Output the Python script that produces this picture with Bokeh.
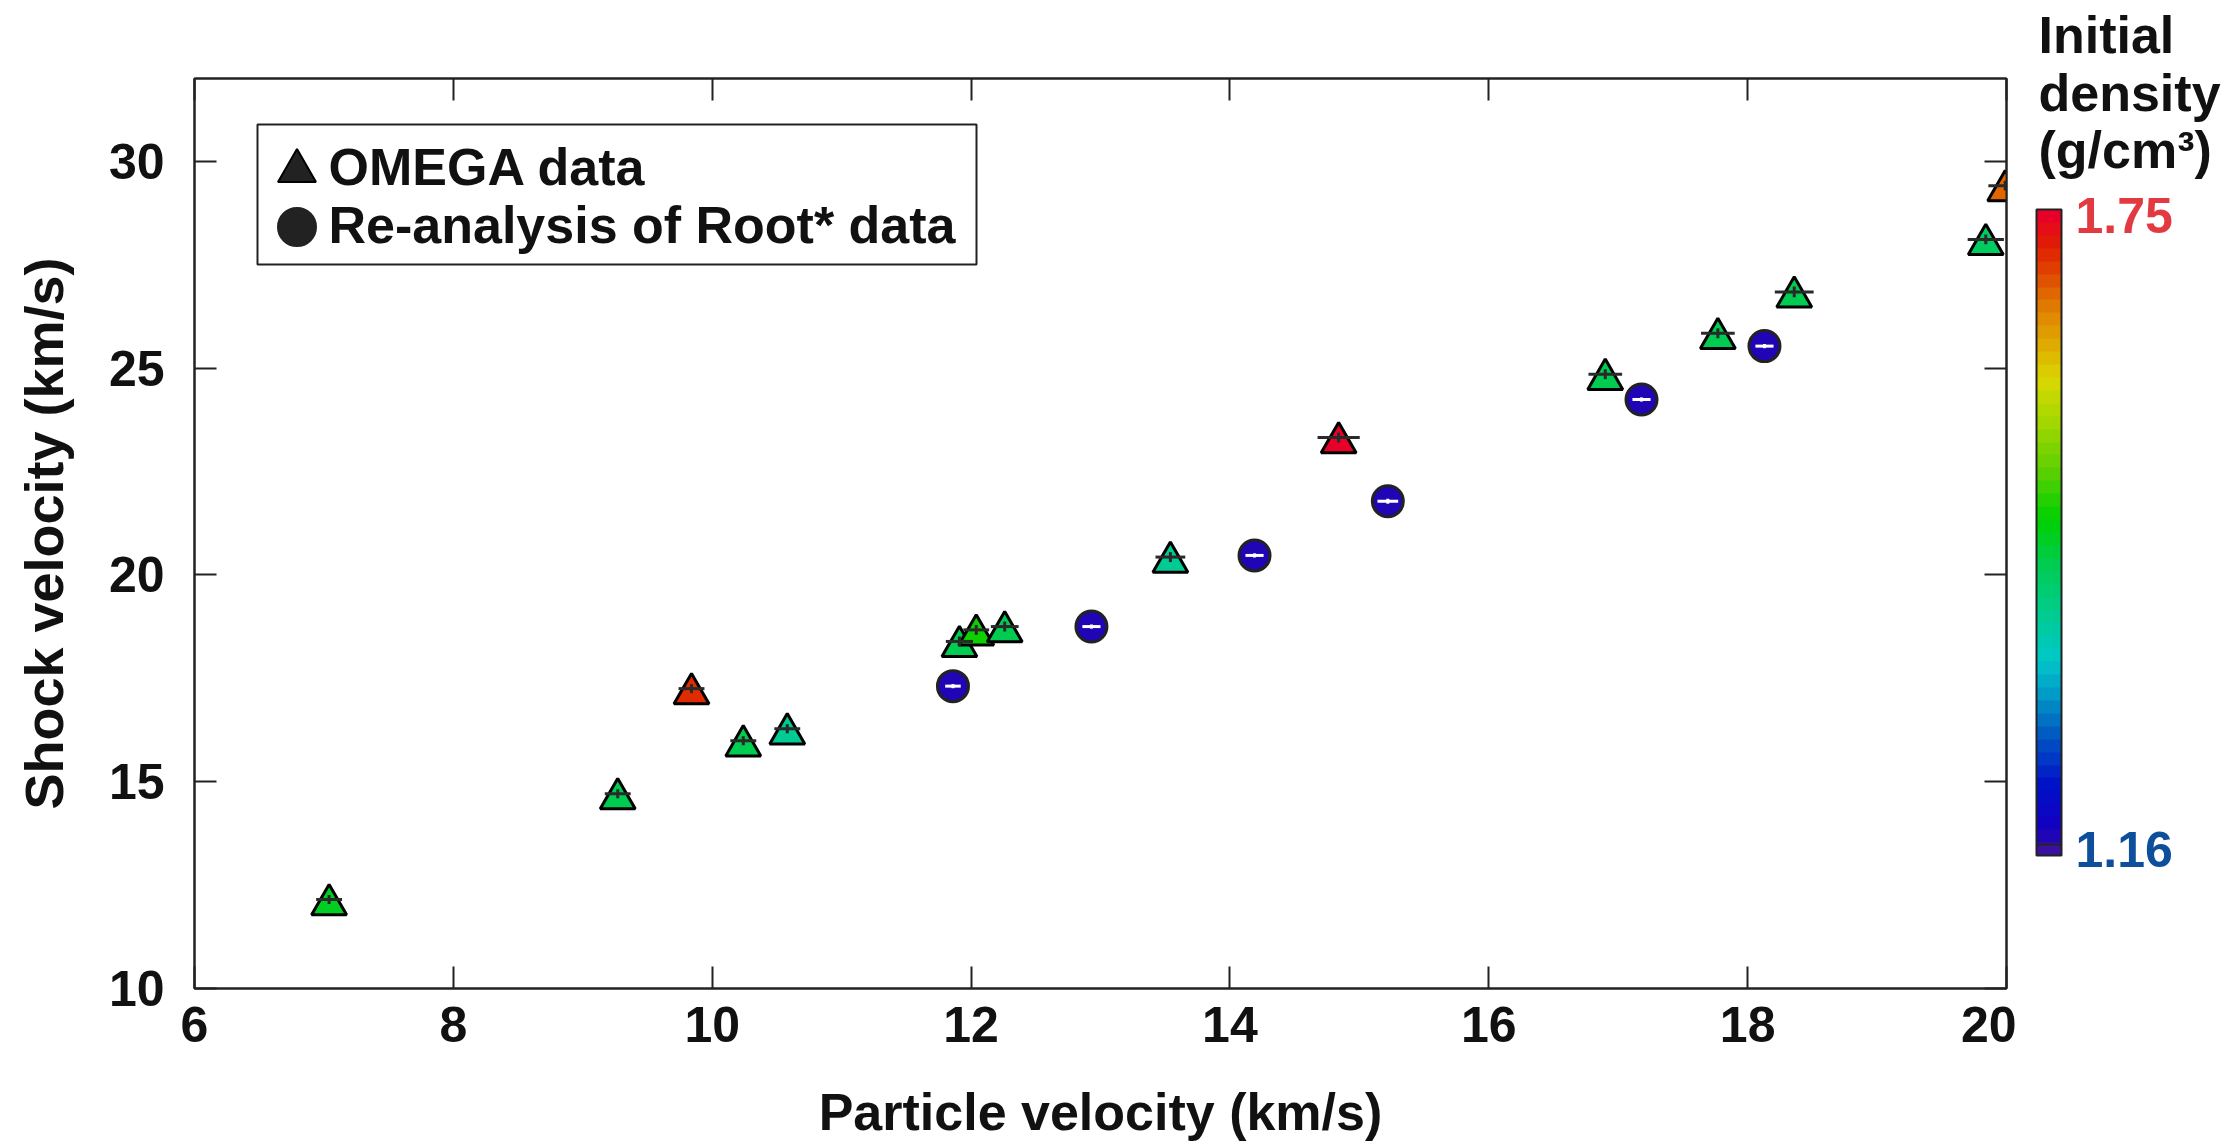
import numpy as np
from bokeh.plotting import figure
from bokeh.layouts import row, column
from bokeh.models import (Range1d, LinearAxis, FixedTicker, ColumnDataSource, LinearColorMapper,
                          ColorBar, Label, Legend, LegendItem, BoxAnnotation)
from bokeh.transform import transform
from bokeh.embed import file_html
from bokeh.resources import INLINE

# ---------------- data ----------------
# OMEGA data: particle velocity Up, shock velocity Us (km/s), errors, initial density (g/cm3)
omega_up = [7.04, 9.27, 9.84, 10.24, 10.58, 11.91, 12.04, 12.26, 13.54, 14.84, 16.90, 17.77, 18.36, 19.84, 19.99]
omega_us = [12.15, 14.71, 17.25, 15.99, 16.28, 18.39, 18.67, 18.75, 20.43, 23.32, 24.85, 25.84, 26.84, 28.11, 29.41]
omega_up_err = [0.10, 0.10, 0.10, 0.10, 0.10, 0.105, 0.10, 0.107, 0.115, 0.163, 0.13, 0.13, 0.15, 0.14, 0.13]
omega_us_err = [0.11, 0.11, 0.11, 0.11, 0.11, 0.12, 0.12, 0.12, 0.12, 0.12, 0.12, 0.12, 0.13, 0.12, 0.12]
omega_rho = [1.443, 1.415, 1.703, 1.425, 1.372, 1.425, 1.473, 1.425, 1.368, 1.738, 1.420, 1.425, 1.425, 1.410, 1.670]

# Re-analysis of Root* data
root_up = [11.86, 12.93, 14.19, 15.22, 17.18, 18.13]
root_us = [17.31, 18.75, 20.47, 21.78, 24.24, 25.53]
root_up_err = [0.06, 0.07, 0.07, 0.08, 0.07, 0.07]
root_us_err = [0.05, 0.05, 0.05, 0.06, 0.05, 0.05]
root_rho = [1.17, 1.17, 1.17, 1.17, 1.17, 1.17]

series_labels = ["OMEGA data", "Re-analysis of Root* data"]
x_ticks = [6, 8, 10, 12, 14, 16, 18, 20]
y_ticks = [10, 15, 20, 25, 30]
rho_low, rho_high = 1.15, 1.75
rho_tick_low, rho_tick_high = 1.16, 1.75
rho_label_low, rho_label_high = "1.16", "1.75"
cbar_title_lines = ["Initial", "density", "(g/cm³)"]

# ---------------- style ----------------
FONT = "Liberation Sans"
anchors = [(0.00, "#3a10a0"), (0.03, "#1400c0"), (0.10, "#0010c8"), (0.18, "#0058c0"),
           (0.25, "#00a0c8"), (0.30, "#00c8c8"), (0.38, "#00cc88"), (0.45, "#00cc50"),
           (0.52, "#00d000"), (0.60, "#60d000"), (0.68, "#a8d800"), (0.74, "#d8d800"),
           (0.80, "#e0a800"), (0.85, "#e08000"), (0.90, "#e05000"), (0.95, "#e02000"),
           (1.00, "#e80028")]

def _hex(c):
    return [int(c[i:i + 2], 16) for i in (1, 3, 5)]

def build_palette(n):
    pos = [a[0] for a in anchors]
    rgb = np.array([_hex(a[1]) for a in anchors], dtype=float)
    out = []
    for t in np.linspace(0, 1, n):
        r = np.interp(t, pos, rgb[:, 0]); g = np.interp(t, pos, rgb[:, 1]); b = np.interp(t, pos, rgb[:, 2])
        out.append("#%02x%02x%02x" % (int(round(r)), int(round(g)), int(round(b))))
    return out

palette = build_palette(50)
mapper = LinearColorMapper(palette=palette, low=rho_low, high=rho_high)

FRAME_W, FRAME_H = 1812, 910
LEFT, TOP, RIGHT, BOTTOM = 194, 78, 10, 158
H = TOP + FRAME_H + BOTTOM          # 1146
W1 = LEFT + FRAME_W + RIGHT         # 2016
W2 = 210

p = figure(width=W1, height=H, output_backend="svg", toolbar_location=None,
           x_range=Range1d(6, 20), y_range=Range1d(10, 32),
           min_border_left=LEFT, min_border_right=RIGHT,
           min_border_top=TOP, min_border_bottom=BOTTOM)
p.grid.visible = False
p.outline_line_color = "#222222"
p.outline_line_width = 2
p.background_fill_color = "white"

# shift so that the triangle's box centre (not its centroid) sits on the data point
TRI_SIZE = 35
px_per_unit = FRAME_H / 22.0
tri_shift = (TRI_SIZE * np.sqrt(3) / 2 / 6) / px_per_unit
p.extra_y_ranges = {"tri": Range1d(10 + tri_shift, 32 + tri_shift)}

def style_axis(ax):
    ax.axis_line_color = "#222222"
    ax.axis_line_width = 2
    ax.major_tick_in = 22
    ax.major_tick_out = 0
    ax.major_tick_line_width = 2
    ax.major_tick_line_color = "#222222"
    ax.minor_tick_line_color = None
    ax.major_label_text_font = FONT
    ax.major_label_text_font_style = "bold"
    ax.major_label_text_color = "#111111"
    ax.major_label_text_font_size = "50px"
    ax.axis_label_text_font = FONT
    ax.axis_label_text_font_style = "bold"
    ax.axis_label_text_color = "#111111"

p.xaxis.ticker = FixedTicker(ticks=x_ticks)
p.yaxis.ticker = FixedTicker(ticks=y_ticks)
style_axis(p.xaxis[0]); style_axis(p.yaxis[0])
p.xaxis.axis_label = "Particle velocity (km/s)"
p.yaxis.axis_label = "Shock velocity (km/s)"
p.xaxis.axis_label_text_font_size = "52px"
p.yaxis.axis_label_text_font_size = "54px"
p.xaxis.major_label_standoff = 18
p.yaxis.major_label_standoff = 30
p.xaxis.axis_label_standoff = 38
p.yaxis.axis_label_standoff = 32

top_ax = LinearAxis(ticker=FixedTicker(ticks=x_ticks)); style_axis(top_ax)
top_ax.major_label_overrides = {t: "" for t in x_ticks}
top_ax.major_label_standoff = 0
right_ax = LinearAxis(ticker=FixedTicker(ticks=y_ticks)); style_axis(right_ax)
right_ax.major_label_overrides = {t: "" for t in y_ticks}
right_ax.major_label_standoff = 0
p.add_layout(top_ax, "above")
p.add_layout(right_ax, "right")

# ---------------- OMEGA triangles ----------------
up = np.array(omega_up); us = np.array(omega_us)
ue = np.array(omega_up_err); se = np.array(omega_us_err)
src_o = ColumnDataSource(dict(x=up, y=us, rho=omega_rho))
p.scatter("x", "y", source=src_o, marker="triangle", size=TRI_SIZE, y_range_name="tri",
          fill_color=transform("rho", mapper), line_color="black", line_width=3)
p.segment(x0=up - ue, y0=us, x1=up + ue, y1=us, line_color="#2a2a2a", line_width=3)
p.segment(x0=up, y0=us - se, x1=up, y1=us + se, line_color="#2a2a2a", line_width=3)

# ---------------- Root circles ----------------
ru = np.array(root_up); rs = np.array(root_us)
rue = np.array(root_up_err); rse = np.array(root_us_err)
src_r = ColumnDataSource(dict(x=ru, y=rs, rho=root_rho))
p.scatter("x", "y", source=src_r, marker="circle", size=31,
          fill_color=transform("rho", mapper), line_color="#222222", line_width=3)
p.segment(x0=ru - rue, y0=rs, x1=ru + rue, y1=rs, line_color="white", line_width=3)
p.segment(x0=ru, y0=rs - rse, x1=ru, y1=rs + rse, line_color="white", line_width=3)

# ---------------- legend (box + glyph legends + text labels) ----------------
fb = TOP + FRAME_H   # page y of frame bottom
p.add_layout(BoxAnnotation(left=257 - LEFT, right=976 - LEFT, top=fb - 124, bottom=fb - 264,
                           left_units="screen", right_units="screen",
                           top_units="screen", bottom_units="screen",
                           fill_color="white", fill_alpha=1.0,
                           line_color="#222222", line_alpha=1.0, line_width=2, level="overlay"))

leg_tri = p.scatter(x=[np.nan], y=[np.nan], marker="triangle", size=38,
                    fill_color="#222222", line_color="black", line_width=2)
leg_cir = p.scatter(x=[np.nan], y=[np.nan], marker="circle", size=38,
                    fill_color="#222222", line_color="#222222", line_width=2)

def glyph_legend(rend, center_x, center_y):
    g = 95
    lg = Legend(items=[LegendItem(label=" ", renderers=[rend])],
                location=(center_x - g / 2 - LEFT, fb - center_y - g / 2),
                glyph_width=g, glyph_height=g, padding=0, margin=0, spacing=0,
                label_standoff=0, label_width=1, label_text_font_size="10px",
                border_line_color=None, background_fill_alpha=0.0)
    p.add_layout(lg, "center")

glyph_legend(leg_tri, 296, 170)
glyph_legend(leg_cir, 296, 226)

for txt, cy in zip(series_labels, [166, 224]):
    p.add_layout(Label(x=328 - LEFT, y=fb - cy, x_units="screen", y_units="screen", text=txt,
                       text_font=FONT, text_font_style="bold", text_font_size="52px",
                       text_color="#111111", text_baseline="middle", level="overlay"))

# ---------------- colour bar panel (second figure, frame = whole canvas) ----------------
p2 = figure(width=W2, height=H, output_backend="svg", toolbar_location=None,
            x_range=Range1d(0, 1), y_range=Range1d(0, 1),
            x_axis_location=None, y_axis_location=None,
            min_border_left=0, min_border_right=0, min_border_top=0, min_border_bottom=0)
p2.grid.visible = False
p2.outline_line_color = None
X0 = W1  # page x where p2 starts

cbar = ColorBar(color_mapper=mapper, location=(2036 - X0, H - 855), width=25, height=646,
                padding=0, margin=0, ticker=FixedTicker(ticks=[rho_tick_low]),
                major_label_overrides={rho_tick_low: ""},
                major_tick_in=25, major_tick_out=0, major_tick_line_color="#222222",
                major_tick_line_width=2, minor_tick_line_color=None,
                bar_line_color="#222222", bar_line_width=2,
                border_line_color=None, background_fill_color=None)
p2.add_layout(cbar, "center")

for txt, cy in zip(cbar_title_lines, [34, 92, 149]):
    p2.add_layout(Label(x=2038 - X0, y=H - cy, x_units="screen", y_units="screen", text=txt,
                        text_font=FONT, text_font_style="bold", text_font_size="52px",
                        text_color="#111111", text_baseline="middle"))
p2.add_layout(Label(x=2075 - X0, y=H - 215, x_units="screen", y_units="screen", text=rho_label_high,
                    text_font=FONT, text_font_style="bold", text_font_size="50px",
                    text_color="#e23a40", text_baseline="middle"))
p2.add_layout(Label(x=2075 - X0, y=H - 849, x_units="screen", y_units="screen", text=rho_label_low,
                    text_font=FONT, text_font_style="bold", text_font_size="50px",
                    text_color="#0d4f9b", text_baseline="middle"))

layout = row(p, column(p2, spacing=0), spacing=0)
open("out.html", "w").write(file_html(layout, INLINE))
